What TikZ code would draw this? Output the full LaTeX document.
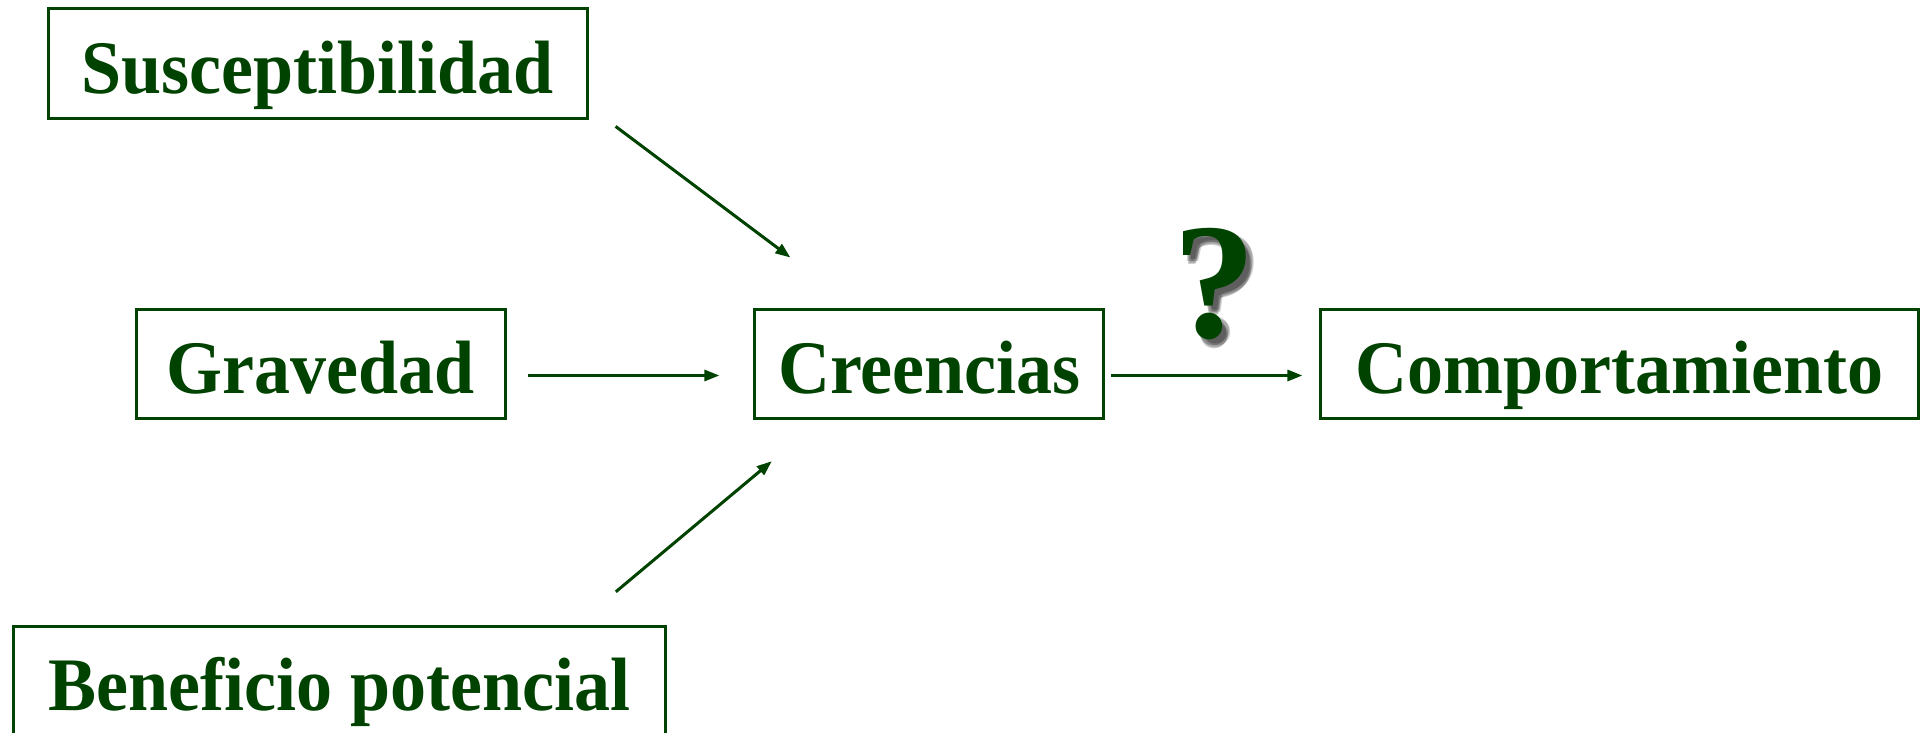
\documentclass[tikz,border=0pt]{standalone}
\usepackage{fontspec}
\setmainfont{Liberation Serif}
\usetikzlibrary{arrows.meta}
\definecolor{dgreen}{RGB}{0,66,0}
\newcommand{\tallword}[1]{\scalebox{1}[1.05]{#1}}
\tikzset{
  box/.style={draw=dgreen, line width=3pt, text=dgreen, font=\fontsize{72}{80}\selectfont\bfseries, inner sep=0pt, text height=70pt, text depth=10pt, anchor=north west},
  arr/.style={draw=dgreen, line width=3pt, -{Triangle[length=15pt,width=11pt]}},
  qmark/.style={font=\fontsize{165}{170}\selectfont\bfseries, inner sep=0pt},
  qshadow/.style={qmark, text=black, opacity=0.18}
}
\begin{document}
\begin{tikzpicture}[x=1pt,y=-1pt]
\useasboundingbox (0,0) rectangle (1921,733);
\node[box, minimum width=539pt, minimum height=110pt] (susc) at (46.6,7.4) {\tallword{Susceptibilidad}};
\node[box, minimum width=369pt, minimum height=109pt] (grav) at (134.8,307.5) {\tallword{Gravedad}};
\node[box, minimum width=349pt, minimum height=109pt] (cree) at (753.4,307.5) {\tallword{Creencias}};
\node[box, minimum width=598pt, minimum height=109pt] (comp) at (1319.4,307.5) {\tallword{Comportamiento}};
\node[box, minimum width=652pt, minimum height=109pt] (bene) at (12.3,624.8) {\tallword{Beneficio potencial}};
\node[qshadow] (qs1) at (1221,292) {?};
\node[qshadow] (qs2) at (1219,290) {?};
\node[qshadow] (qs3) at (1223,290) {?};
\node[qshadow] (qs4) at (1220,293) {?};
\node[qshadow] (qs5) at (1222,288) {?};
\node[qmark, text=dgreen] (q) at (1214.5,284) {?};
\draw[arr] ([shift={(27,6)}]susc.south east) -- ([shift={(37,-50)}]cree.north west);
\draw[arr] ([shift={(21,12)}]grav.east) -- ([shift={(-34,12)}]cree.west);
\draw[arr] ([shift={(-51.5,-33)}]bene.north east) -- ([shift={(18.4,41.7)}]cree.south west);
\draw[arr] ([shift={(6,12)}]cree.east) -- ([shift={(-17,12)}]comp.west);
\end{tikzpicture}
\end{document}
